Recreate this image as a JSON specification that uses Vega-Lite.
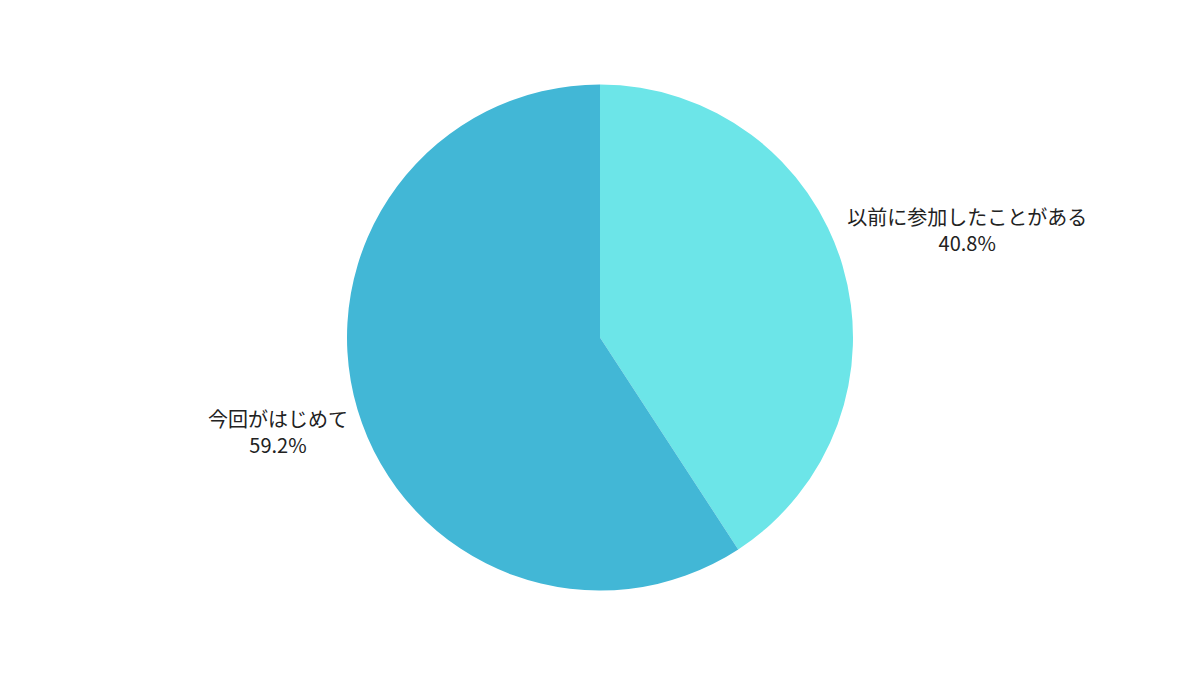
{
  "$schema": "https://vega.github.io/schema/vega-lite/v6.json",
  "width": 1200,
  "height": 675,
  "padding": 0,
  "autosize": {"type": "fit", "contains": "padding"},
  "background": "#ffffff",
  "view": {"stroke": null},
  "data": {
    "values": [
      {"order": 1, "answer": "以前に参加したことがある", "share": 40.8, "label": "以前に参加したことがある\n40.8%"},
      {"order": 2, "answer": "今回がはじめて", "share": 59.2, "label": "今回がはじめて\n59.2%"}
    ]
  },
  "encoding": {
    "theta": {"field": "share", "type": "quantitative", "stack": true},
    "order": {"field": "order", "type": "ordinal"}
  },
  "layer": [
    {
      "mark": {"type": "arc", "outerRadius": 253, "stroke": null},
      "encoding": {
        "color": {
          "field": "answer",
          "type": "nominal",
          "scale": {"domain": ["以前に参加したことがある", "今回がはじめて"], "range": ["#6ce5e8", "#42b7d6"]},
          "legend": null
        }
      }
    },
    {
      "mark": {"type": "text", "radius": 260, "align": "center", "baseline": "middle", "dx": 118, "dy": -44, "lineBreak": "\n", "lineHeight": 26, "font": "Noto Sans CJK JP", "fontSize": 20, "color": "#222222"},
      "encoding": {
        "text": {"condition": {"test": "datum.order === 1", "field": "label"}, "value": ""}
      }
    },
    {
      "mark": {"type": "text", "radius": 264, "align": "center", "baseline": "middle", "dx": -69, "dy": 8, "lineBreak": "\n", "lineHeight": 26, "font": "Noto Sans CJK JP", "fontSize": 20, "color": "#222222"},
      "encoding": {
        "text": {"condition": {"test": "datum.order === 2", "field": "label"}, "value": ""}
      }
    }
  ]
}
